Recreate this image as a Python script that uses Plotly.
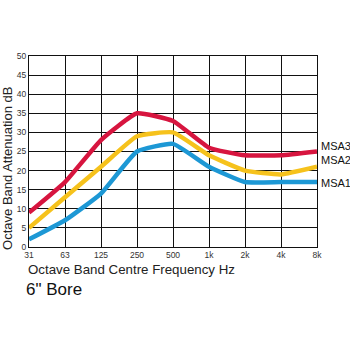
import plotly.graph_objects as go

freqs = ["31", "63", "125", "250", "500", "1k", "2k", "4k", "8k"]
msa3 = [9, 17, 28, 35, 33, 26, 24, 24, 25]
msa2 = [5, 13, 21, 29, 30, 24, 20, 19, 21]
msa1 = [2, 7, 14, 25, 27, 21, 17, 17, 17]
series_names = ["MSA3", "MSA2", "MSA1"]
label_y = [26.5, 22.8, 16.8]
colors = ["#d7153f", "#f6c21c", "#1d98d5"]

fig = go.Figure()
for name, vals, col in zip(series_names, [msa3, msa2, msa1], colors):
    fig.add_trace(go.Scatter(x=freqs, y=vals, mode="lines", name=name,
                             line=dict(color=col, width=4.5, shape="spline", smoothing=0.4)))

for name, ly in zip(series_names, label_y):
    fig.add_annotation(x=1, xref="paper", y=ly, yref="y", text=name, showarrow=False,
                       xanchor="left", xshift=2, font=dict(size=11, color="#111"))

fig.add_annotation(x=-0.012, xref="paper", y=-0.12, yref="paper", text="Octave Band Centre Frequency Hz",
                   showarrow=False, xanchor="left", yanchor="middle", font=dict(size=13.3, color="#222"))
fig.add_annotation(x=-0.018, xref="paper", y=-0.22, yref="paper", text="6\" Bore",
                   showarrow=False, xanchor="left", yanchor="middle", font=dict(size=17, color="#111"))
fig.add_annotation(x=-0.073, xref="paper", y=0.414, yref="paper", text="Octave Band Attenuation dB",
                   showarrow=False, textangle=-90, xanchor="center", yanchor="middle",
                   font=dict(size=13, color="#222"))

fig.update_layout(
    width=350, height=350,
    margin=dict(l=29, r=33, t=56, b=103),
    paper_bgcolor="white", plot_bgcolor="white",
    showlegend=False,
    font=dict(family="Liberation Sans, Arial, sans-serif", color="#333"),
    xaxis=dict(type="category", range=[0, 8], showgrid=True, gridcolor="#111", gridwidth=1,
               showline=True, linecolor="#111", linewidth=1.2, mirror=True,
               tickfont=dict(size=8.5), ticks="", zeroline=False),
    yaxis=dict(range=[0, 50], dtick=5, showgrid=True, gridcolor="#111", gridwidth=1,
               showline=True, linecolor="#111", linewidth=1.2, mirror=True,
               tickfont=dict(size=8.5), ticks="", zeroline=False),
)
fig.write_html("out.html")
